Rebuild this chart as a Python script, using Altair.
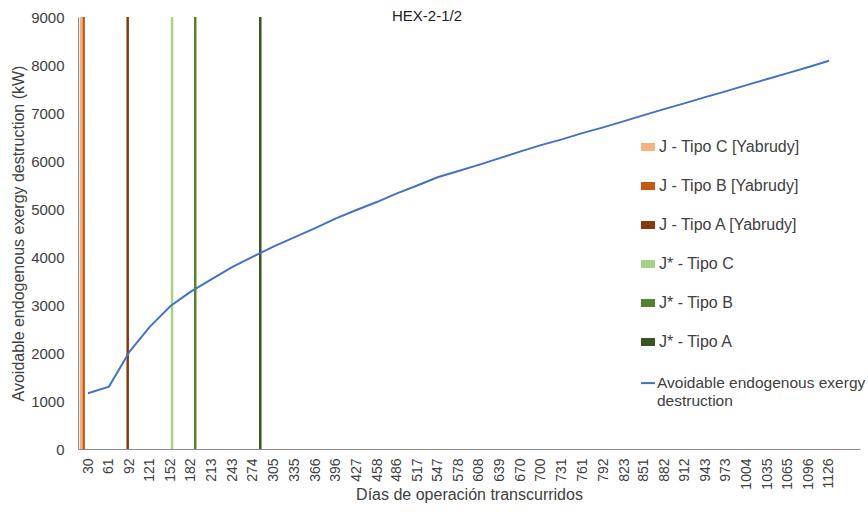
import altair as alt
import pandas as pd

days = [30, 61, 92, 121, 152, 182, 213, 243, 274, 305, 335, 366, 396, 427, 458, 486,
        517, 547, 578, 608, 639, 670, 700, 731, 761, 792, 823, 851, 882, 912, 943, 973,
        1004, 1035, 1065, 1096, 1126]
exergy = [1160, 1300, 2040, 2540, 2980, 3280, 3540, 3790, 4010, 4220, 4410, 4600, 4800,
          4980, 5150, 5320, 5490, 5660, 5790, 5920, 6060, 6200, 6330, 6450, 6580, 6700,
          6830, 6950, 7080, 7200, 7330, 7450, 7580, 7710, 7830, 7960, 8090]

marker_names = ["J - Tipo C [Yabrudy]", "J - Tipo B [Yabrudy]", "J - Tipo A [Yabrudy]",
                "J* - Tipo C", "J* - Tipo B", "J* - Tipo A"]
marker_days = [19.6, 23.6, 88.7, 154.3, 188.6, 284.8]
marker_colors = ["#F4B183", "#C55A11", "#843C0C", "#A9D18E", "#548235", "#375623"]

line_name = "Avoidable endogenous exergy destruction"

FONT = "Liberation Sans"
TXT = "#404040"

line_df = pd.DataFrame({"dia": days, "val": exergy, "serie": [line_name] * len(days)})
mark_df = pd.DataFrame({"dia": marker_days, "serie": marker_names})

xscale = alt.Scale(domain=[15.2, 1171.9], nice=False, zero=False)
xaxis = alt.Axis(values=days, format="d", labelAngle=-90, labelAlign="right",
                 labelBaseline="middle", labelPadding=9, ticks=False, grid=False,
                 domainColor="#8c8c8c", labelFont=FONT, labelFontSize=14, labelColor=TXT,
                 title="Días de operación transcurridos", titleFont=FONT, titleFontSize=16,
                 titleFontWeight="normal", titleColor=TXT, titleY=45, titleBaseline="middle",
                 labelOverlap=False, labelFlush=False)
yaxis = alt.Axis(values=list(range(0, 9001, 1000)), format="d", ticks=False, grid=False,
                 domainColor="#8c8c8c", labelPadding=14, labelFont=FONT, labelFontSize=15,
                 labelColor=TXT, title="Avoidable endogenous exergy destruction  (kW)",
                 titleFont=FONT, titleFontSize=16, titleFontWeight="normal", titleColor=TXT,
                 titleX=-60, titleY=216, titleAngle=-90, titleAlign="center",
                 titleBaseline="middle")

rules = alt.Chart(mark_df).mark_rule(strokeWidth=2.5).encode(
    x=alt.X("dia:Q", scale=xscale, axis=xaxis),
    color=alt.Color("serie:N", sort=marker_names,
                    scale=alt.Scale(domain=marker_names, range=marker_colors),
                    legend=alt.Legend(orient="none", legendX=559, legendY=119, title=None,
                                      symbolType="M-1,0H1", symbolSize=196,
                                      symbolStrokeWidth=8, padding=0, rowPadding=7,
                                      labelFont=FONT, labelFontSize=16, labelColor=TXT,
                                      labelOffset=0, labelLimit=300)),
)

line = alt.Chart(line_df).mark_line(strokeWidth=2).encode(
    x=alt.X("dia:Q", scale=xscale, axis=xaxis),
    y=alt.Y("val:Q", scale=alt.Scale(domain=[0, 9000], nice=False), axis=yaxis),
    color=alt.Color("serie:N", scale=alt.Scale(domain=[line_name], range=["#4472C4"]),
                    legend=alt.Legend(orient="none", legendX=562, legendY=363, title=None,
                                      symbolType="M-1,-0.7H1", symbolSize=196,
                                      symbolStrokeWidth=2, padding=0,
                                      labelFont=FONT, labelFontSize=15.5, labelColor=TXT,
                                      labelOffset=1, labelLimit=300,
                                      labelBaseline="alphabetic",
                                      labelExpr="['Avoidable endogenous exergy', 'destruction']")),
)

chart = alt.layer(rules, line).resolve_scale(color="independent").properties(
    width=782, height=432,
    autosize=alt.AutoSizeParams(type="none"),
    padding={"left": 78, "top": 17, "right": 8, "bottom": 67},
    title=alt.Title("HEX-2-1/2", font=FONT, fontSize=15, fontWeight="normal",
                    color="#222222", anchor="start", dx=382, offset=-21, baseline="middle"),
).configure_view(stroke=None)

chart.save("out.html", embed_options={"renderer": "svg", "actions": False})
